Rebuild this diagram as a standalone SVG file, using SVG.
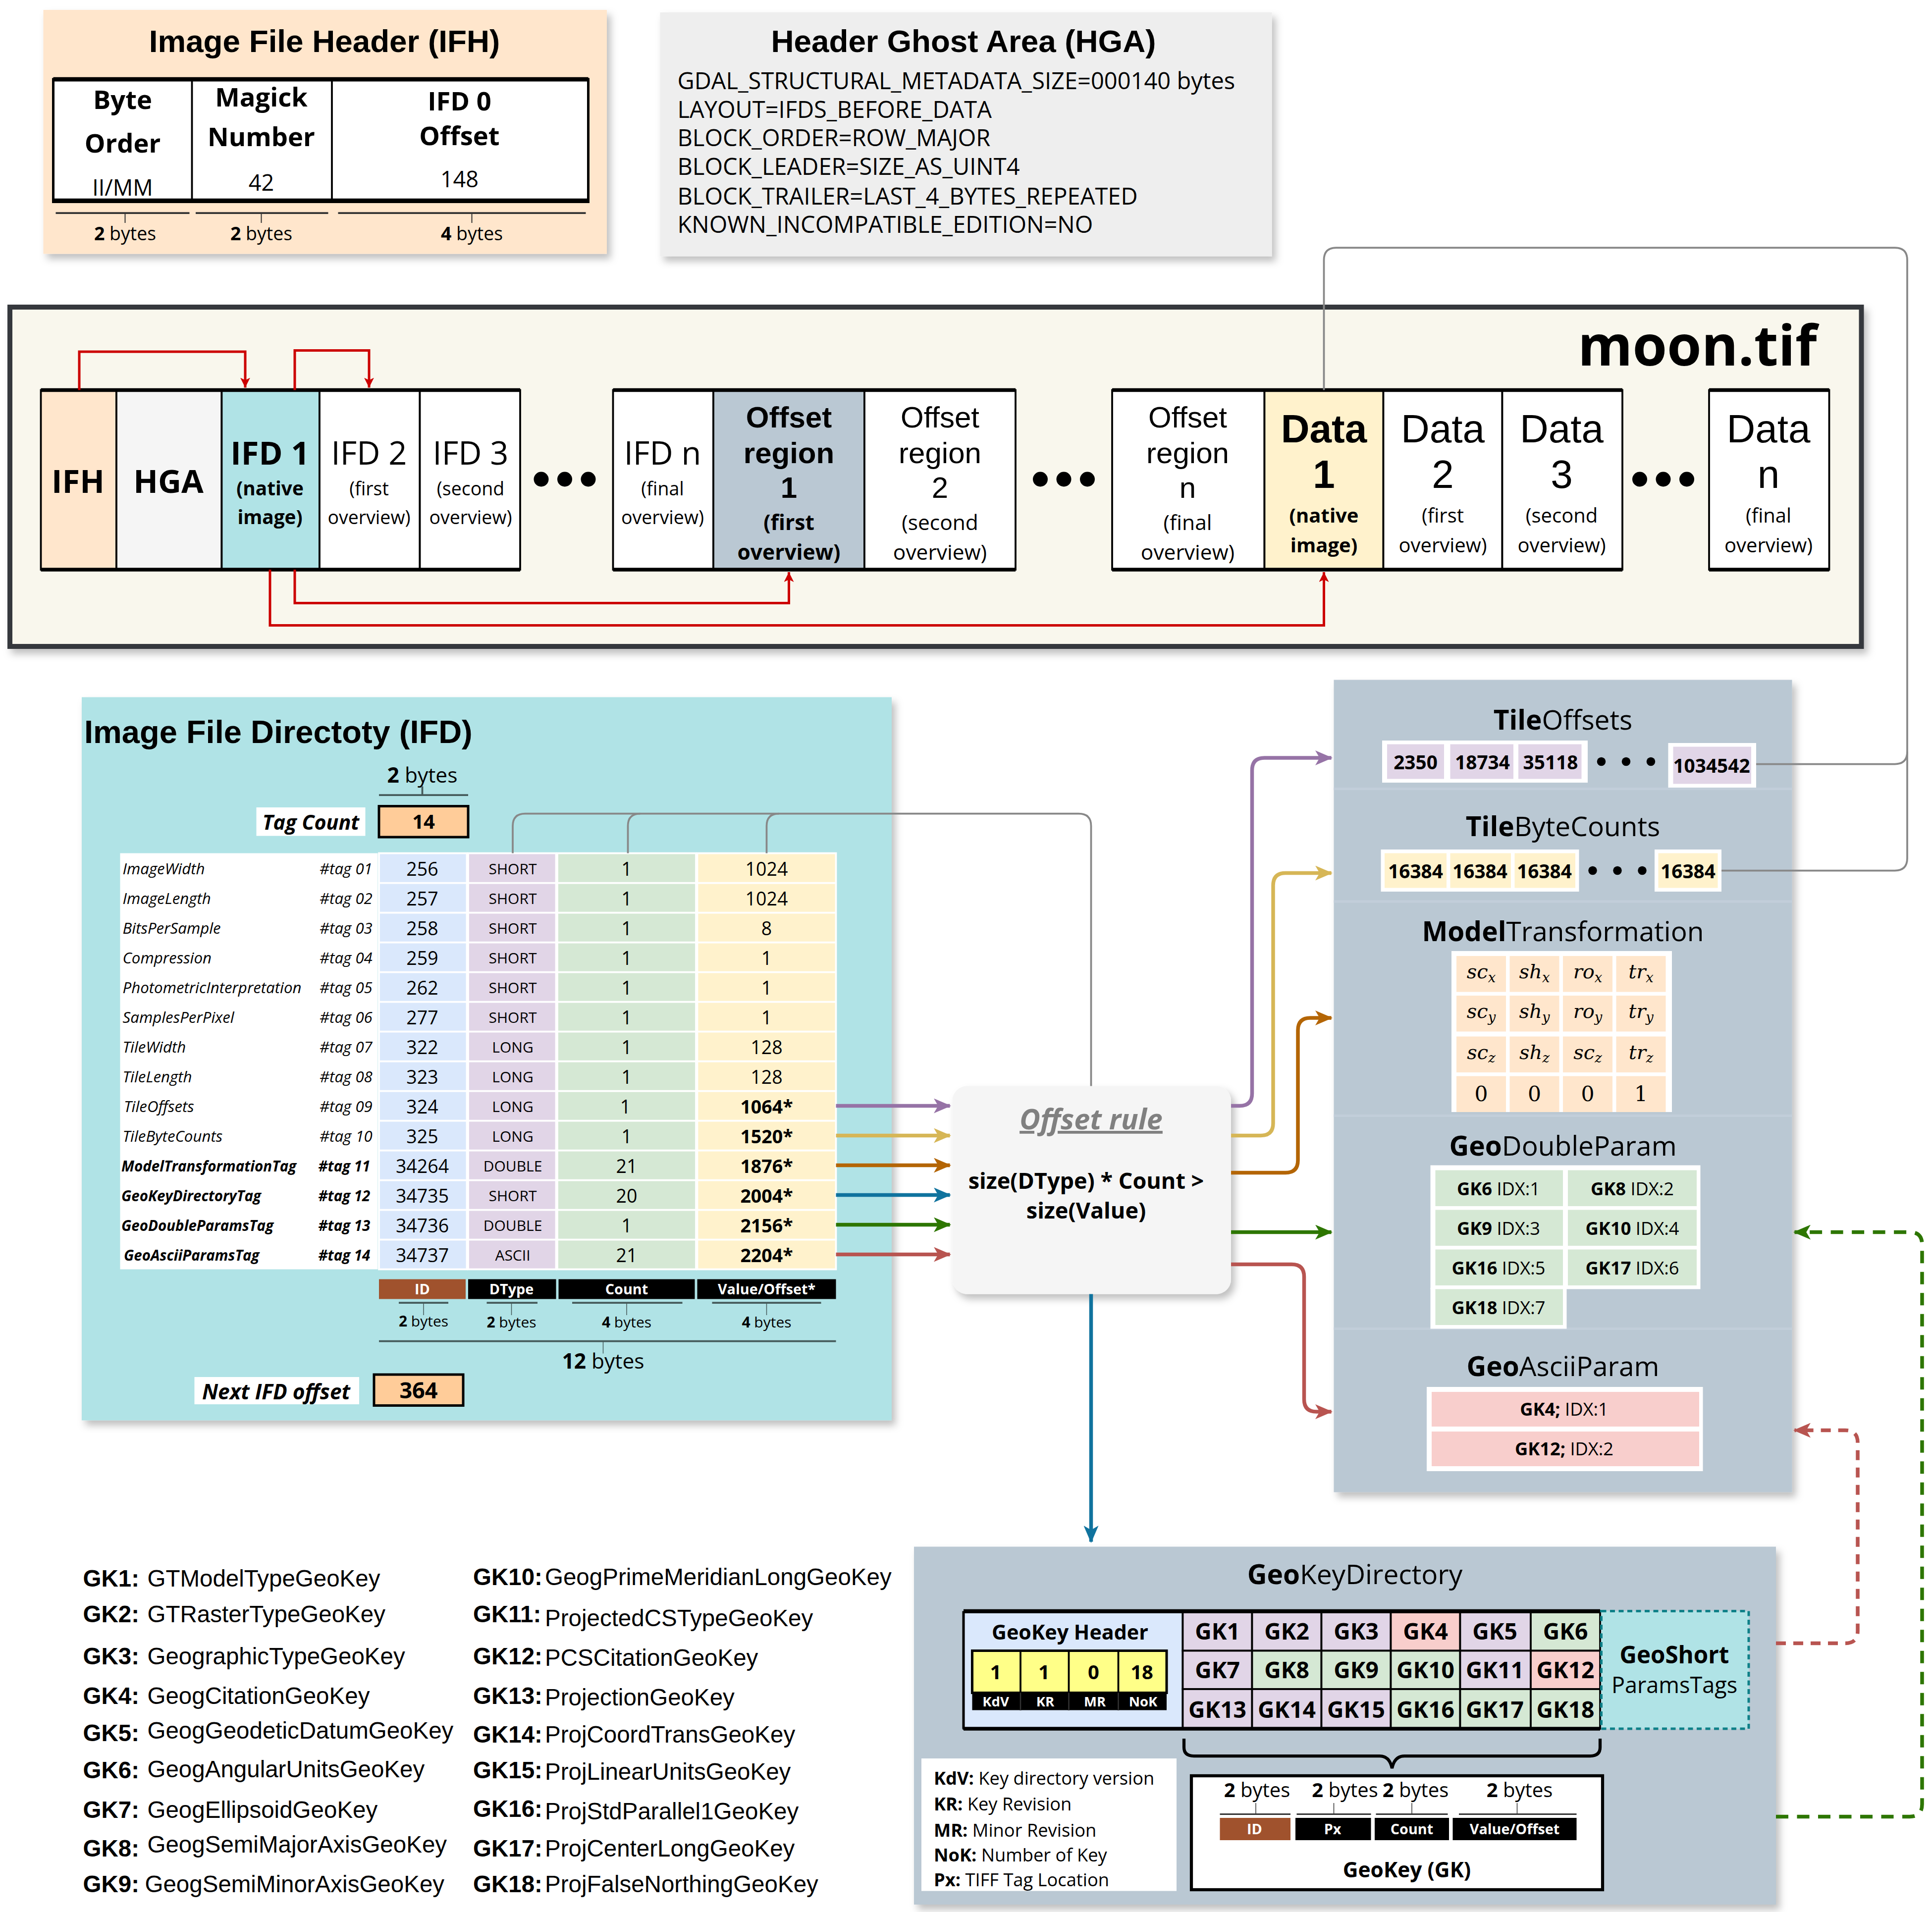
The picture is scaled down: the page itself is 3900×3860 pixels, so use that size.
<svg xmlns="http://www.w3.org/2000/svg" width="3900" height="3860" viewBox="0 0 3900 3860">
<defs>
<style>
.u{font-family:"Open Sans","Noto Sans","DejaVu Sans",sans-serif}
.a{font-family:"Liberation Sans",Arial,sans-serif}
.s{font-family:"DejaVu Serif","Liberation Serif",serif;font-style:italic}
.sr{font-family:"DejaVu Serif","Liberation Serif",serif}
.b{font-weight:bold}
.n{font-weight:normal}
.i{font-style:italic}
.m{text-anchor:middle}
.e{text-anchor:end}
.w{fill:#fff}
.cell{stroke:#000;stroke-width:1.5}
.tc{stroke:#fff;stroke-width:1.5}
.red{fill:none;stroke:#CC0000;stroke-width:2}
.gray{fill:none;stroke:#888;stroke-width:1.5}
.con{fill:none;stroke-width:3}
.br{stroke:#455A5A;stroke-width:1.5;fill:none}
</style>
<filter id="sh" x="-5%" y="-5%" width="115%" height="120%">
<feDropShadow dx="3" dy="4" stdDeviation="3" flood-color="#000" flood-opacity="0.25"/>
</filter>
<marker id="mr" markerUnits="userSpaceOnUse" markerWidth="8" markerHeight="10" refX="8" refY="4" orient="auto"><path d="M0,0 L8,4 L0,8 L2,4 z" fill="#CC0000"/></marker>
<marker id="mpu" markerUnits="userSpaceOnUse" markerWidth="14" markerHeight="12" refX="13" refY="6" orient="auto"><path d="M0,0 L14,6 L0,12 L3.5,6 z" fill="#9673A6"/></marker>
<marker id="mye" markerUnits="userSpaceOnUse" markerWidth="14" markerHeight="12" refX="13" refY="6" orient="auto"><path d="M0,0 L14,6 L0,12 L3.5,6 z" fill="#D6B656"/></marker>
<marker id="mor" markerUnits="userSpaceOnUse" markerWidth="14" markerHeight="12" refX="13" refY="6" orient="auto"><path d="M0,0 L14,6 L0,12 L3.5,6 z" fill="#B46504"/></marker>
<marker id="mbl" markerUnits="userSpaceOnUse" markerWidth="14" markerHeight="12" refX="13" refY="6" orient="auto"><path d="M0,0 L14,6 L0,12 L3.5,6 z" fill="#10739E"/></marker>
<marker id="mgr" markerUnits="userSpaceOnUse" markerWidth="14" markerHeight="12" refX="13" refY="6" orient="auto"><path d="M0,0 L14,6 L0,12 L3.5,6 z" fill="#2D7600"/></marker>
<marker id="mrd" markerUnits="userSpaceOnUse" markerWidth="14" markerHeight="12" refX="13" refY="6" orient="auto"><path d="M0,0 L14,6 L0,12 L3.5,6 z" fill="#B85450"/></marker>
</defs>
<rect width="3900" height="3860" fill="#fff"/>
<g transform="scale(2.5)">

<!-- IFH -->
<g id="ifh">
<rect x="35" y="8" width="455" height="197" fill="#FFE6CC" filter="url(#sh)"/>
<text x="262" y="42" class="a b m" font-size="25.5">Image File Header (IFH)</text>
<rect x="43" y="64" width="432" height="99" fill="#fff" stroke="#000" stroke-width="2"/>
<path d="M43,64 H475 M43,162 H475" stroke="#000" stroke-width="3.5"/>
<path d="M155,64 V162 M268,64 V162" stroke="#000" stroke-width="1.5"/>
<text class="u m b" font-size="21"><tspan x="99" y="88">Byte</tspan><tspan x="99" y="123">Order</tspan><tspan x="99" y="158" font-size="18" class="n">II/MM</tspan></text>
<text class="u m b" font-size="21"><tspan x="211" y="86">Magick</tspan><tspan x="211" y="118">Number</tspan><tspan x="211" y="154" font-size="18" class="n">42</tspan></text>
<text class="u m b" font-size="21"><tspan x="371" y="89">IFD 0</tspan><tspan x="371" y="117">Offset</tspan><tspan x="371" y="151" font-size="18" class="n">148</tspan></text>
<path d="M45,172 H153 M158,172 H265 M273,172 H473" stroke="#333" stroke-width="1.5"/>
<path d="M101,172 V180 M211,172 V180 M381,172 V180" stroke="#333" stroke-width="0.8"/>
<g class="u m" font-size="15">
<text x="101" y="194"><tspan class="b">2</tspan> bytes</text>
<text x="211" y="194"><tspan class="b">2</tspan> bytes</text>
<text x="381" y="194"><tspan class="b">4</tspan> bytes</text>
</g>
</g>

<!-- HGA -->
<g id="hga">
<rect x="533" y="10" width="494" height="197" fill="#EEEEEE" filter="url(#sh)"/>
<text x="778" y="42" class="a b m" font-size="25.5">Header Ghost Area (HGA)</text>
<g class="u" font-size="18.8">
<text x="547" y="72">GDAL_STRUCTURAL_METADATA_SIZE=000140 bytes</text>
<text x="547" y="95">LAYOUT=IFDS_BEFORE_DATA</text>
<text x="547" y="118">BLOCK_ORDER=ROW_MAJOR</text>
<text x="547" y="141">BLOCK_LEADER=SIZE_AS_UINT4</text>
<text x="547" y="165">BLOCK_TRAILER=LAST_4_BYTES_REPEATED</text>
<text x="547" y="188">KNOWN_INCOMPATIBLE_EDITION=NO</text>
</g>
</g>

<!-- moon.tif container -->
<g id="moontif">
<rect x="8" y="248" width="1495" height="274" fill="#F9F7ED" stroke="#36393D" stroke-width="4" filter="url(#sh)"/>
<text x="1467" y="295" class="u b e" font-size="45">moon.tif</text>
</g>

<g id="file-cells">
<rect x="33" y="315" width="61" height="145" fill="#FFE6CC" class="cell"/>
<rect x="94" y="315" width="85" height="145" fill="#F5F5F5" class="cell"/>
<rect x="179" y="315" width="79" height="145" fill="#B0E3E6" class="cell"/>
<rect x="258" y="315" width="81" height="145" fill="#fff" class="cell"/>
<rect x="339" y="315" width="81" height="145" fill="#fff" class="cell"/>
<path d="M33,315 H420 M33,460 H420" stroke="#000" stroke-width="3"/>
<rect x="495" y="315" width="81" height="145" fill="#fff" class="cell"/>
<rect x="576" y="315" width="122" height="145" fill="#BAC8D3" class="cell"/>
<rect x="698" y="315" width="122" height="145" fill="#fff" class="cell"/>
<path d="M495,315 H820 M495,460 H820" stroke="#000" stroke-width="3"/>
<rect x="898" y="315" width="123" height="145" fill="#fff" class="cell"/>
<rect x="1021" y="315" width="96" height="145" fill="#FFF2CC" class="cell"/>
<rect x="1117" y="315" width="96" height="145" fill="#fff" class="cell"/>
<rect x="1213" y="315" width="97" height="145" fill="#fff" class="cell"/>
<path d="M898,315 H1310 M898,460 H1310" stroke="#000" stroke-width="3"/>
<rect x="1380" y="315" width="97" height="145" fill="#fff" class="cell"/>
<path d="M1380,315 H1477 M1380,460 H1477" stroke="#000" stroke-width="3"/>
<g fill="#000">
<circle cx="437" cy="387" r="6"/><circle cx="456" cy="387" r="6"/><circle cx="475" cy="387" r="6"/>
<circle cx="840" cy="387" r="6"/><circle cx="859" cy="387" r="6"/><circle cx="878" cy="387" r="6"/>
<circle cx="1324" cy="387" r="6"/><circle cx="1343" cy="387" r="6"/><circle cx="1362" cy="387" r="6"/>
</g>
<g class="u m">
<text x="63" y="398" font-size="26" class="b">IFH</text>
<text x="136" y="398" font-size="26" class="b">HGA</text>
<text class="b" font-size="26"><tspan x="218" y="375">IFD 1</tspan><tspan x="218" y="400" font-size="15.5">(native</tspan><tspan x="218" y="423" font-size="15.5">image)</tspan></text>
<text font-size="26"><tspan x="298" y="375">IFD 2</tspan><tspan x="298" y="400" font-size="15">(first</tspan><tspan x="298" y="423" font-size="15">overview)</tspan></text>
<text font-size="26"><tspan x="380" y="375">IFD 3</tspan><tspan x="380" y="400" font-size="15">(second</tspan><tspan x="380" y="423" font-size="15">overview)</tspan></text>
<text font-size="26"><tspan x="535" y="375">IFD n</tspan><tspan x="535" y="400" font-size="15">(final</tspan><tspan x="535" y="423" font-size="15">overview)</tspan></text>
<text class="a b" font-size="24"><tspan x="637" y="345">Offset</tspan><tspan x="637" y="374">region</tspan><tspan x="637" y="402">1</tspan></text>
<text class="b" font-size="17"><tspan x="637" y="428">(first</tspan><tspan x="637" y="452">overview)</tspan></text>
<text class="a" font-size="24"><tspan x="759" y="345">Offset</tspan><tspan x="759" y="374">region</tspan><tspan x="759" y="402">2</tspan></text>
<text font-size="17"><tspan x="759" y="428">(second</tspan><tspan x="759" y="452">overview)</tspan></text>
<text class="a" font-size="24"><tspan x="959" y="345">Offset</tspan><tspan x="959" y="374">region</tspan><tspan x="959" y="402">n</tspan></text>
<text font-size="17"><tspan x="959" y="428">(final</tspan><tspan x="959" y="452">overview)</tspan></text>
<text class="a b" font-size="32"><tspan x="1069" y="357">Data</tspan><tspan x="1069" y="394">1</tspan></text>
<text class="b" font-size="16"><tspan x="1069" y="422">(native</tspan><tspan x="1069" y="446">image)</tspan></text>
<text class="a" font-size="32"><tspan x="1165" y="357">Data</tspan><tspan x="1165" y="394">2</tspan></text>
<text font-size="16"><tspan x="1165" y="422">(first</tspan><tspan x="1165" y="446">overview)</tspan></text>
<text class="a" font-size="32"><tspan x="1261" y="357">Data</tspan><tspan x="1261" y="394">3</tspan></text>
<text font-size="16"><tspan x="1261" y="422">(second</tspan><tspan x="1261" y="446">overview)</tspan></text>
<text class="a" font-size="32"><tspan x="1428" y="357">Data</tspan><tspan x="1428" y="394">n</tspan></text>
<text font-size="16"><tspan x="1428" y="422">(final</tspan><tspan x="1428" y="446">overview)</tspan></text>
</g>
</g>

<!-- IFD panel -->
<g id="ifd">
<rect x="66" y="563" width="654" height="584" fill="#B0E3E6" filter="url(#sh)"/>
<text x="68" y="600" class="a b" font-size="26">Image File Directoty (IFD)</text>
<text x="341" y="632" class="u m" font-size="17"><tspan class="b">2</tspan> bytes</text>
<path d="M306,642 H378 M341,635 V642" class="br"/>
<rect x="207" y="652" width="88" height="23" fill="#fff"/>
<text x="251" y="670" class="u b i m" font-size="16.5">Tag Count</text>
<rect x="306" y="651" width="72" height="25" fill="#FFCC99" stroke="#000" stroke-width="2"/>
<text x="342" y="669" class="u b m" font-size="16">14</text>

<rect x="97" y="689" width="208" height="336" fill="#fff"/>
<g class="tc">
<rect x="306" y="689" width="71" height="336" fill="#DAE8FC"/>
<rect x="378" y="689" width="71" height="336" fill="#E1D5E7"/>
<rect x="450" y="689" width="112" height="336" fill="#D5E8D4"/>
<rect x="563" y="689" width="112" height="336" fill="#FFF2CC"/>
<path d="M306,713 H675 M306,737 H675 M306,761 H675 M306,785 H675 M306,809 H675 M306,833 H675 M306,857 H675 M306,881 H675 M306,905 H675 M306,929 H675 M306,953 H675 M306,977 H675 M306,1001 H675" fill="none"/>
</g>
<g class="u" font-size="12.5">
<g class="i">
<text x="99" y="706">ImageWidth</text><text x="258" y="706">#tag 01</text>
<text x="99" y="730">ImageLength</text><text x="258" y="730">#tag 02</text>
<text x="99" y="754">BitsPerSample</text><text x="258" y="754">#tag 03</text>
<text x="99" y="778">Compression</text><text x="258" y="778">#tag 04</text>
<text x="99" y="802">PhotometricInterpretation</text><text x="258" y="802">#tag 05</text>
<text x="99" y="826">SamplesPerPixel</text><text x="258" y="826">#tag 06</text>
<text x="99" y="850">TileWidth</text><text x="258" y="850">#tag 07</text>
<text x="99" y="874">TileLength</text><text x="258" y="874">#tag 08</text>
<text x="100" y="898">TileOffsets</text><text x="258" y="898">#tag 09</text>
<text x="99" y="922">TileByteCounts</text><text x="258" y="922">#tag 10</text>
</g>
<g class="i b" font-size="11.8">
<text x="98" y="946">ModelTransformationTag</text><text x="257" y="946">#tag 11</text>
<text x="98" y="970">GeoKeyDirectoryTag</text><text x="257" y="970">#tag 12</text>
<text x="98" y="994">GeoDoubleParamsTag</text><text x="257" y="994">#tag 13</text>
<text x="100" y="1018">GeoAsciiParamsTag</text><text x="257" y="1018">#tag 14</text>
</g>
<g class="m" font-size="15">
<text x="341" y="707">256</text><text x="341" y="731">257</text><text x="341" y="755">258</text><text x="341" y="779">259</text><text x="341" y="803">262</text><text x="341" y="827">277</text><text x="341" y="851">322</text><text x="341" y="875">323</text><text x="341" y="899">324</text><text x="341" y="923">325</text><text x="341" y="947">34264</text><text x="341" y="971">34735</text><text x="341" y="995">34736</text><text x="341" y="1019">34737</text>
</g>
<g class="m" font-size="12">
<text x="414" y="706">SHORT</text><text x="414" y="730">SHORT</text><text x="414" y="754">SHORT</text><text x="414" y="778">SHORT</text><text x="414" y="802">SHORT</text><text x="414" y="826">SHORT</text><text x="414" y="850">LONG</text><text x="414" y="874">LONG</text><text x="414" y="898">LONG</text><text x="414" y="922">LONG</text><text x="414" y="946">DOUBLE</text><text x="414" y="970">SHORT</text><text x="414" y="994">DOUBLE</text><text x="414" y="1018">ASCII</text>
</g>
<g class="m" font-size="15">
<text x="506" y="707">1</text><text x="506" y="731">1</text><text x="506" y="755">1</text><text x="506" y="779">1</text><text x="506" y="803">1</text><text x="506" y="827">1</text><text x="506" y="851">1</text><text x="506" y="875">1</text><text x="505" y="899">1</text><text x="506" y="923">1</text><text x="506" y="947">21</text><text x="506" y="971">20</text><text x="506" y="995">1</text><text x="506" y="1019">21</text>
<text x="619" y="707">1024</text><text x="619" y="731">1024</text><text x="619" y="755">8</text><text x="619" y="779">1</text><text x="619" y="803">1</text><text x="619" y="827">1</text><text x="619" y="851">128</text><text x="619" y="875">128</text>
<g class="b"><text x="619" y="899">1064*</text><text x="619" y="923">1520*</text><text x="619" y="947">1876*</text><text x="619" y="971">2004*</text><text x="619" y="995">2156*</text><text x="619" y="1019">2204*</text></g>
</g>
</g>
<rect x="306" y="1033" width="70" height="16" fill="#A0522D"/>
<rect x="378" y="1033" width="71" height="16" fill="#000"/>
<rect x="451" y="1033" width="110" height="16" fill="#000"/>
<rect x="563" y="1033" width="112" height="16" fill="#000"/>
<g class="u b m w" font-size="11.5">
<text x="341" y="1045">ID</text><text x="413" y="1045">DType</text><text x="506" y="1045">Count</text><text x="619" y="1045">Value/Offset*</text>
</g>
<path d="M322,1052 H362 M393,1052 H434 M462,1052 H551 M575,1052 H663" class="br"/>
<path d="M342,1052 V1062 M413,1052 V1062 M506,1052 V1062 M619,1052 V1062" stroke="#455A5A" stroke-width="0.6"/>
<g class="u m" font-size="12">
<text x="342" y="1071"><tspan class="b">2</tspan> bytes</text>
<text x="413" y="1072"><tspan class="b">2</tspan> bytes</text>
<text x="506" y="1072"><tspan class="b">4</tspan> bytes</text>
<text x="619" y="1072"><tspan class="b">4</tspan> bytes</text>
</g>
<path d="M306,1083 H675" class="br"/>
<path d="M487,1083 V1093" stroke="#455A5A" stroke-width="0.6"/>
<text x="487" y="1105" class="u m" font-size="17"><tspan class="b">12</tspan> bytes</text>
<rect x="157" y="1112" width="133" height="22" fill="#fff"/>
<text x="223" y="1130" class="u b i m" font-size="17">Next IFD offset</text>
<rect x="302" y="1110" width="72" height="25" fill="#FFCC99" stroke="#000" stroke-width="2"/>
<text x="338" y="1129" class="u b m" font-size="18">364</text>
</g>

<!-- Offset rule -->
<g id="offset-rule">
<rect x="769" y="877" width="225" height="168" rx="12" fill="#F5F5F5" filter="url(#sh)"/>
<text x="881" y="912" class="u b i m" font-size="23" fill="#808080" text-decoration="underline">Offset rule</text>
<text class="u b m" font-size="18"><tspan x="877" y="960">size(DType) * Count &gt;</tspan><tspan x="877" y="984">size(Value)</tspan></text>
</g>

<!-- right panel -->
<g id="tag-values">
<rect x="1077" y="549" width="370" height="656" fill="#BAC8D3" filter="url(#sh)"/>
<path d="M1077,637 H1447 M1077,728 H1447 M1077,901 H1447 M1077,1073 H1447" stroke="#C2CEDA" stroke-width="2"/>
<g class="u m" font-size="22">
<text x="1262" y="589"><tspan class="b">Tile</tspan>Offsets</text>
<text x="1262" y="675"><tspan class="b">Tile</tspan>ByteCounts</text>
<text x="1262" y="760"><tspan class="b">Model</tspan>Transformation</text>
<text x="1262" y="933"><tspan class="b">Geo</tspan>DoubleParam</text>
<text x="1262" y="1111"><tspan class="b">Geo</tspan>AsciiParam</text>
</g>
<rect x="1116" y="598" width="166" height="34" fill="#fff"/>
<rect x="1120" y="601" width="46" height="28" fill="#E1D5E7"/>
<rect x="1171" y="601" width="51" height="28" fill="#E1D5E7"/>
<rect x="1226" y="601" width="51" height="28" fill="#E1D5E7"/>
<rect x="1347" y="600" width="71" height="36" fill="#fff"/>
<rect x="1351" y="603" width="63" height="30" fill="#E1D5E7"/>
<rect x="1115" y="686" width="160" height="34" fill="#fff"/>
<rect x="1118" y="689" width="50" height="28" fill="#FFF2CC"/>
<rect x="1171" y="689" width="49" height="28" fill="#FFF2CC"/>
<rect x="1223" y="689" width="49" height="28" fill="#FFF2CC"/>
<rect x="1336" y="686" width="54" height="34" fill="#fff"/>
<rect x="1339" y="689" width="48" height="28" fill="#FFF2CC"/>
<g fill="#000">
<circle cx="1293" cy="615" r="3.5"/><circle cx="1313" cy="615" r="3.5"/><circle cx="1333" cy="615" r="3.5"/>
<circle cx="1286" cy="703" r="3.5"/><circle cx="1306" cy="703" r="3.5"/><circle cx="1326" cy="703" r="3.5"/>
</g>
<g class="u b m" font-size="15.5">
<text x="1143" y="621">2350</text><text x="1197" y="621">18734</text><text x="1252" y="621">35118</text><text x="1382" y="624">1034542</text>
<text x="1143" y="709">16384</text><text x="1195" y="709">16384</text><text x="1247" y="709">16384</text><text x="1363" y="709">16384</text>
</g>
<rect x="1172" y="768" width="178" height="130" fill="#fff"/>
<g fill="#FFE6CC">
<rect x="1176" y="772" width="40" height="29"/><rect x="1219" y="772" width="40" height="29"/><rect x="1262" y="772" width="40" height="29"/><rect x="1305" y="772" width="40" height="29"/>
<rect x="1176" y="804" width="40" height="29"/><rect x="1219" y="804" width="40" height="29"/><rect x="1262" y="804" width="40" height="29"/><rect x="1305" y="804" width="40" height="29"/>
<rect x="1176" y="837" width="40" height="29"/><rect x="1219" y="837" width="40" height="29"/><rect x="1262" y="837" width="40" height="29"/><rect x="1305" y="837" width="40" height="29"/>
<rect x="1176" y="869" width="40" height="29"/><rect x="1219" y="869" width="40" height="29"/><rect x="1262" y="869" width="40" height="29"/><rect x="1305" y="869" width="40" height="29"/>
</g>
<g class="s m" font-size="16">
<text x="1196" y="790">sc<tspan font-size="11" dy="3">x</tspan></text>
<text x="1239" y="790">sh<tspan font-size="11" dy="3">x</tspan></text>
<text x="1282" y="790">ro<tspan font-size="11" dy="3">x</tspan></text>
<text x="1325" y="790">tr<tspan font-size="11" dy="3">x</tspan></text>
<text x="1196" y="822">sc<tspan font-size="11" dy="3">y</tspan></text>
<text x="1239" y="822">sh<tspan font-size="11" dy="3">y</tspan></text>
<text x="1282" y="822">ro<tspan font-size="11" dy="3">y</tspan></text>
<text x="1325" y="822">tr<tspan font-size="11" dy="3">y</tspan></text>
<text x="1196" y="855">sc<tspan font-size="11" dy="3">z</tspan></text>
<text x="1239" y="855">sh<tspan font-size="11" dy="3">z</tspan></text>
<text x="1282" y="855">sc<tspan font-size="11" dy="3">z</tspan></text>
<text x="1325" y="855">tr<tspan font-size="11" dy="3">z</tspan></text>
</g>
<g class="sr m" font-size="17">
<text x="1196" y="889">0</text><text x="1239" y="889">0</text><text x="1282" y="889">0</text><text x="1325" y="889">1</text>
</g>
<rect x="1155" y="941" width="218" height="100" fill="#fff"/>
<rect x="1155" y="1040" width="110" height="33" fill="#fff"/>
<g fill="#D5E8D4">
<rect x="1159" y="945" width="103" height="29"/><rect x="1266" y="945" width="104" height="29"/>
<rect x="1159" y="977" width="103" height="29"/><rect x="1266" y="977" width="104" height="29"/>
<rect x="1159" y="1009" width="103" height="29"/><rect x="1266" y="1009" width="104" height="29"/>
<rect x="1159" y="1041" width="103" height="29"/>
</g>
<g class="u m" font-size="14.5">
<text x="1210" y="965"><tspan class="b">GK6</tspan> IDX:1</text>
<text x="1318" y="965"><tspan class="b">GK8</tspan> IDX:2</text>
<text x="1210" y="997"><tspan class="b">GK9</tspan> IDX:3</text>
<text x="1318" y="997"><tspan class="b">GK10</tspan> IDX:4</text>
<text x="1210" y="1029"><tspan class="b">GK16</tspan> IDX:5</text>
<text x="1318" y="1029"><tspan class="b">GK17</tspan> IDX:6</text>
<text x="1210" y="1061"><tspan class="b">GK18</tspan> IDX:7</text>
</g>
<rect x="1152" y="1120" width="223" height="68" fill="#fff"/>
<rect x="1156" y="1124" width="216" height="28" fill="#F8CECC"/>
<rect x="1156" y="1156" width="216" height="28" fill="#F8CECC"/>
<g class="u m" font-size="14.5">
<text x="1263" y="1143"><tspan class="b">GK4;</tspan>  IDX:1</text>
<text x="1263" y="1175"><tspan class="b">GK12;</tspan>  IDX:2</text>
</g>
</g>

<!-- GeoKeyDirectory -->
<g id="geokeydirectory">
<rect x="738" y="1249" width="696" height="289" fill="#BAC8D3" filter="url(#sh)"/>
<text x="1094" y="1279" class="u m" font-size="22"><tspan class="b">Geo</tspan>KeyDirectory</text>
<rect x="778" y="1302" width="177" height="94" fill="#DAE8FC" class="cell"/>
<text x="864" y="1324" class="u b m" font-size="16.5">GeoKey Header</text>
<rect x="785" y="1333" width="157" height="34" fill="#FFFF88" stroke="#000" stroke-width="2"/>
<path d="M824,1333 V1381 M863,1333 V1381 M903,1333 V1381" stroke="#000" stroke-width="1.5"/>
<rect x="785" y="1366" width="157" height="15" fill="#000"/>
<path d="M824,1367 V1381 M863,1367 V1381 M903,1367 V1381" stroke="#333" stroke-width="1"/>
<g class="u b m" font-size="16">
<text x="804" y="1356">1</text><text x="843" y="1356">1</text><text x="883" y="1356">0</text><text x="922" y="1356">18</text>
</g>
<g class="u b m w" font-size="11">
<text x="804" y="1378">KdV</text><text x="844" y="1378">KR</text><text x="884" y="1378">MR</text><text x="923" y="1378">NoK</text>
</g>
<g class="cell">
<rect x="955" y="1302" width="56" height="31" fill="#E1D5E7"/><rect x="1011" y="1302" width="56" height="31" fill="#E1D5E7"/><rect x="1067" y="1302" width="56" height="31" fill="#E1D5E7"/><rect x="1123" y="1302" width="56" height="31" fill="#F8CECC"/><rect x="1179" y="1302" width="57" height="31" fill="#E1D5E7"/><rect x="1236" y="1302" width="56" height="31" fill="#D5E8D4"/>
<rect x="955" y="1333" width="56" height="31" fill="#E1D5E7"/><rect x="1011" y="1333" width="56" height="31" fill="#D5E8D4"/><rect x="1067" y="1333" width="56" height="31" fill="#D5E8D4"/><rect x="1123" y="1333" width="56" height="31" fill="#D5E8D4"/><rect x="1179" y="1333" width="57" height="31" fill="#E1D5E7"/><rect x="1236" y="1333" width="56" height="31" fill="#F8CECC"/>
<rect x="955" y="1364" width="56" height="32" fill="#E1D5E7"/><rect x="1011" y="1364" width="56" height="32" fill="#E1D5E7"/><rect x="1067" y="1364" width="56" height="32" fill="#E1D5E7"/><rect x="1123" y="1364" width="56" height="32" fill="#D5E8D4"/><rect x="1179" y="1364" width="57" height="32" fill="#D5E8D4"/><rect x="1236" y="1364" width="56" height="32" fill="#D5E8D4"/>
</g>
<path d="M778,1301 H1292 M778,1396 H1292" stroke="#000" stroke-width="3"/>
<path d="M778,1301 V1396" stroke="#000" stroke-width="2"/>
<g class="u b m" font-size="18.5">
<text x="983" y="1324">GK1</text><text x="1039" y="1324">GK2</text><text x="1095" y="1324">GK3</text><text x="1151" y="1324">GK4</text><text x="1207" y="1324">GK5</text><text x="1264" y="1324">GK6</text>
<text x="983" y="1355">GK7</text><text x="1039" y="1355">GK8</text><text x="1095" y="1355">GK9</text><text x="1151" y="1355">GK10</text><text x="1207" y="1355">GK11</text><text x="1264" y="1355">GK12</text>
<text x="983" y="1387">GK13</text><text x="1039" y="1387">GK14</text><text x="1095" y="1387">GK15</text><text x="1151" y="1387">GK16</text><text x="1207" y="1387">GK17</text><text x="1264" y="1387">GK18</text>
</g>
<path d="M956,1404 V1411 Q956,1418 964,1418 H1114 Q1122,1418 1124,1428 Q1126,1418 1134,1418 H1284 Q1292,1418 1292,1411 V1404" fill="none" stroke="#000" stroke-width="2.5"/>
<rect x="744" y="1420" width="206" height="107" fill="#fff"/>
<g class="u" font-size="14.5">
<text x="754" y="1441"><tspan class="b">KdV:</tspan> Key directory version</text>
<text x="754" y="1462"><tspan class="b">KR:</tspan> Key Revision</text>
<text x="754" y="1483"><tspan class="b">MR:</tspan> Minor Revision</text>
<text x="754" y="1503"><tspan class="b">NoK:</tspan> Number of Key</text>
<text x="754" y="1523"><tspan class="b">Px:</tspan> TIFF Tag Location</text>
</g>
</g>

<g id="geoshort">
<rect x="1293" y="1301" width="119" height="95" fill="#B0E3E6" stroke="#0E8088" stroke-width="2" stroke-dasharray="4 3"/>
<text class="u m" font-size="18"><tspan x="1352" y="1343" class="b" font-size="19">GeoShort</tspan><tspan x="1352" y="1367">ParamsTags</tspan></text>
</g>

<g id="geokey-gk">
<rect x="962" y="1434" width="332" height="92" fill="#fff" stroke="#000" stroke-width="2.5"/>
<g class="u m" font-size="16">
<text x="1015" y="1451"><tspan class="b">2</tspan> bytes</text>
<text x="1086" y="1451"><tspan class="b">2</tspan> bytes</text>
<text x="1143" y="1451"><tspan class="b">2</tspan> bytes</text>
<text x="1227" y="1451"><tspan class="b">2</tspan> bytes</text>
</g>
<path d="M985,1465 H1042 M1047,1465 H1107 M1111,1465 H1169 M1178,1465 H1273" stroke="#333" stroke-width="1.2"/>
<path d="M1014,1456 V1465 M1077,1456 V1465 M1140,1456 V1465 M1225,1456 V1465" stroke="#333" stroke-width="0.6"/>
<rect x="985" y="1468" width="57" height="18" fill="#A0522D"/>
<rect x="1046" y="1468" width="61" height="18" fill="#000"/>
<rect x="1110" y="1468" width="60" height="18" fill="#000"/>
<rect x="1173" y="1468" width="100" height="18" fill="#000"/>
<g class="u b m w" font-size="11.5">
<text x="1013" y="1481">ID</text><text x="1076" y="1481">Px</text><text x="1140" y="1481">Count</text><text x="1223" y="1481">Value/Offset</text>
</g>
<text x="1136" y="1516" class="u b m" font-size="17">GeoKey (GK)</text>
</g>

<!-- GK legend -->
<g id="gk-legend" class="a" font-size="19">
<text x="67" y="1281"><tspan class="b">GK1:</tspan></text><text x="119" y="1281">GTModelTypeGeoKey</text>
<text x="67" y="1310"><tspan class="b">GK2:</tspan></text><text x="119" y="1310">GTRasterTypeGeoKey</text>
<text x="67" y="1344"><tspan class="b">GK3:</tspan></text><text x="119" y="1344">GeographicTypeGeoKey</text>
<text x="67" y="1376"><tspan class="b">GK4:</tspan></text><text x="119" y="1376">GeogCitationGeoKey</text>
<text x="67" y="1406"><tspan class="b">GK5:</tspan></text><text x="119" y="1404">GeogGeodeticDatumGeoKey</text>
<text x="67" y="1436"><tspan class="b">GK6:</tspan></text><text x="119" y="1435">GeogAngularUnitsGeoKey</text>
<text x="67" y="1468"><tspan class="b">GK7:</tspan></text><text x="119" y="1468">GeogEllipsoidGeoKey</text>
<text x="67" y="1499"><tspan class="b">GK8:</tspan></text><text x="119" y="1496">GeogSemiMajorAxisGeoKey</text>
<text x="67" y="1528"><tspan class="b">GK9:</tspan></text><text x="117" y="1528">GeogSemiMinorAxisGeoKey</text>
<text x="382" y="1280"><tspan class="b">GK10:</tspan></text><text x="440" y="1280">GeogPrimeMeridianLongGeoKey</text>
<text x="382" y="1310"><tspan class="b">GK11:</tspan></text><text x="440" y="1313">ProjectedCSTypeGeoKey</text>
<text x="382" y="1344"><tspan class="b">GK12:</tspan></text><text x="440" y="1345">PCSCitationGeoKey</text>
<text x="382" y="1376"><tspan class="b">GK13:</tspan></text><text x="440" y="1377">ProjectionGeoKey</text>
<text x="382" y="1407"><tspan class="b">GK14:</tspan></text><text x="440" y="1407">ProjCoordTransGeoKey</text>
<text x="382" y="1436"><tspan class="b">GK15:</tspan></text><text x="440" y="1437">ProjLinearUnitsGeoKey</text>
<text x="382" y="1467"><tspan class="b">GK16:</tspan></text><text x="440" y="1469">ProjStdParallel1GeoKey</text>
<text x="382" y="1499"><tspan class="b">GK17:</tspan></text><text x="440" y="1499">ProjCenterLongGeoKey</text>
<text x="382" y="1528"><tspan class="b">GK18:</tspan></text><text x="440" y="1528">ProjFalseNorthingGeoKey</text>
</g>

<!-- connectors -->
<g id="connectors">
<path d="M64,315 V284 H198 V313" class="red" marker-end="url(#mr)"/>
<path d="M238,315 V283 H298 V313" class="red" marker-end="url(#mr)"/>
<path d="M238,460 V487 H637 V462" class="red" marker-end="url(#mr)"/>
<path d="M218,460 V505 H1069 V462" class="red" marker-end="url(#mr)"/>
<path d="M1069,315 V210 Q1069,200 1079,200 H1530 Q1540,200 1540,210 V607 Q1540,617 1530,617 H1418" class="gray"/>
<path d="M1540,607 V693 Q1540,703 1530,703 H1390" class="gray"/>
<path d="M414,689 V667 Q414,657 424,657 H871 Q881,657 881,667 V877" class="gray"/>
<path d="M507,689 V667 Q507,657 517,657" class="gray"/>
<path d="M619,689 V667 Q619,657 629,657" class="gray"/>
<path d="M675,893 H767" class="con" stroke="#9673A6" marker-end="url(#mpu)"/>
<path d="M675,917 H767" class="con" stroke="#D6B656" marker-end="url(#mye)"/>
<path d="M675,941 H767" class="con" stroke="#B46504" marker-end="url(#mor)"/>
<path d="M675,965 H767" class="con" stroke="#10739E" marker-end="url(#mbl)"/>
<path d="M675,989 H767" class="con" stroke="#2D7600" marker-end="url(#mgr)"/>
<path d="M675,1013 H767" class="con" stroke="#B85450" marker-end="url(#mrd)"/>
<path d="M994,893 H1001 Q1011,893 1011,883 V622 Q1011,612 1021,612 H1075" class="con" stroke="#9673A6" marker-end="url(#mpu)"/>
<path d="M994,917 H1018 Q1028,917 1028,907 V715 Q1028,705 1038,705 H1075" class="con" stroke="#D6B656" marker-end="url(#mye)"/>
<path d="M994,947 H1038 Q1048,947 1048,937 V832 Q1048,822 1058,822 H1075" class="con" stroke="#B46504" marker-end="url(#mor)"/>
<path d="M994,995 H1075" class="con" stroke="#2D7600" marker-end="url(#mgr)"/>
<path d="M994,1021 H1043 Q1053,1021 1053,1031 V1130 Q1053,1140 1063,1140 H1075" class="con" stroke="#B85450" marker-end="url(#mrd)"/>
<path d="M881,1045 V1245" class="con" stroke="#10739E" marker-end="url(#mbl)"/>
<path d="M1434,1327 H1490 Q1500,1327 1500,1317 V1165 Q1500,1155 1490,1155 H1449" class="con" stroke="#B85450" stroke-dasharray="8 6" marker-end="url(#mrd)"/>
<path d="M1434,1467 H1542 Q1552,1467 1552,1457 V1005 Q1552,995 1542,995 H1449" class="con" stroke="#2D7600" stroke-dasharray="10 7" marker-end="url(#mgr)"/>
</g>
</g>
</svg>
